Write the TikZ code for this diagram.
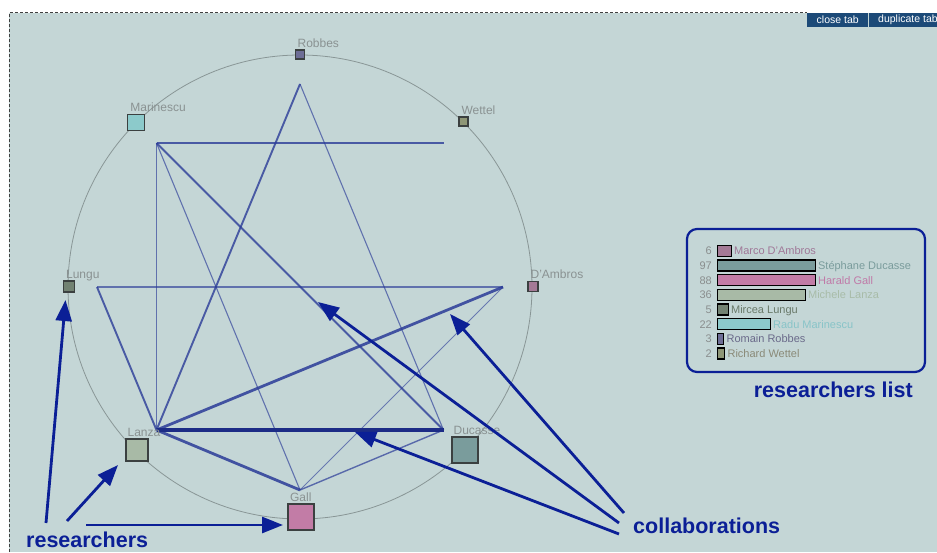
\documentclass[tikz,border=0pt]{standalone}
\usepackage{fontspec}
\setmainfont{Liberation Sans}
\usetikzlibrary{arrows.meta}
\definecolor{bg}{HTML}{C4D6D6}
\definecolor{annot}{HTML}{0B1F96}
\definecolor{edgeblue}{HTML}{2B3C98}
\definecolor{edgedark}{HTML}{1C2C86}
\definecolor{btnblue}{HTML}{1C4A78}
\definecolor{lblgrey}{HTML}{8A9292}
\definecolor{numgrey}{HTML}{8A8E8E}
\definecolor{cRob}{HTML}{6E6E96}
\definecolor{cWet}{HTML}{8E9676}
\definecolor{cDAm}{HTML}{A47A96}
\definecolor{cDuc}{HTML}{7A9C9C}
\definecolor{cGal}{HTML}{C27CA6}
\definecolor{cLan}{HTML}{A8BAA6}
\definecolor{cLun}{HTML}{728272}
\definecolor{cMar}{HTML}{8CCACB}
\definecolor{tDAm}{HTML}{A07898}
\definecolor{tDuc}{HTML}{7A9C9C}
\definecolor{tGal}{HTML}{C07AA8}
\definecolor{tLan}{HTML}{A8BCA8}
\definecolor{tLun}{HTML}{6A7A6A}
\definecolor{tMar}{HTML}{88C4C8}
\definecolor{tRob}{HTML}{6A6A8A}
\definecolor{tWet}{HTML}{8A8A78}
\tikzset{
  sq/.style={draw=black!70!bg, line width=1.2pt, inner sep=0pt, rectangle},
  lbl/.style={anchor=base west, inner sep=0pt, text=lblgrey, font=\fontsize{12}{14}\selectfont},
  eA/.style={draw=edgedark, line width=3.6pt},
  eB/.style={draw=edgeblue, line width=2.8pt, opacity=.85},
  eC/.style={draw=edgeblue, line width=1.9pt, opacity=.8},
  eD/.style={draw=edgeblue, line width=1.1pt, opacity=.65},
  eE/.style={draw=edgeblue, line width=0.8pt, opacity=.6},
  ring/.style={draw=black!30!bg, line width=0.8pt},
  bar/.style={draw=black, line width=1.4pt, inner sep=0pt, minimum height=11pt, anchor=west, rectangle},
  lname/.style={anchor=base west, inner sep=0pt, font=\fontsize{11}{13}\selectfont},
  lnum/.style={anchor=base east, inner sep=0pt, text=numgrey, font=\fontsize{11}{13}\selectfont},
  listbox/.style={draw=annot, line width=2.2pt, rounded corners=10pt},
  big/.style={inner sep=0pt, text=annot, font=\fontsize{21.5}{24}\selectfont\bfseries},
  arr/.style={draw=annot, line width=2.8pt, -{Triangle[length=21pt,width=16pt]}},
  btn/.style={fill=btnblue, text=white, inner sep=0pt, font=\fontsize{10.5}{12}\selectfont},
}
\begin{document}
\begin{tikzpicture}[x=1pt,y=-1pt]
\useasboundingbox (0,0) rectangle (937,552);
% background and dashed frame
\fill[bg] (9,12.5) rectangle (937,552);
\draw[black!75, line width=0.8pt, dash pattern=on 3pt off 2pt] (9.5,552) -- (9.5,12.5) -- (807,12.5);
% buttons
\node[btn, anchor=north west, minimum width=61pt, minimum height=14pt] (close) at (807,12.5) {close tab};
\fill[btnblue] (869,12.5) rectangle (940,26.5);
\node[btn, anchor=west] (dup) at (878,19.5) {duplicate tab};
% circle
\draw[ring] (300,287) circle[radius=232pt];
% inner coordinates
\coordinate (robI) at (300,84);
\coordinate (wetI) at (443.5,143);
\coordinate (damI) at (503,287);
\coordinate (ducI) at (443.5,430);
\coordinate (galI) at (300,490);
\coordinate (lanI) at (156.5,430);
\coordinate (lunI) at (97,287);
\coordinate (marI) at (156.5,143);
% collaborations (edges)
\draw[eD] (marI) -- (lanI);
\draw[eD] (marI) -- (galI);
\draw[eD] (robI) -- (ducI);
\draw[eD] (lunI) -- (damI);
\draw[eE] (damI) -- (galI);
\draw[eC] (marI) -- (wetI);
\draw[eC] (marI) -- (ducI);
\draw[eC] (robI) -- (lanI);
\draw[eC] (lunI) -- (lanI);
\draw[draw=edgeblue, line width=1.4pt, opacity=.7] (galI) -- (ducI);
\draw[eB] (damI) -- (lanI);
\draw[eB] (lanI) -- (galI);
\draw[eA] (lanI) -- (ducI);
% researcher squares
\node[sq, fill=cRob, minimum size=9pt] (rob) at (300,54.5) {};
\node[sq, fill=cWet, minimum size=9pt] (wet) at (463.5,121.5) {};
\node[sq, fill=cDAm, minimum size=10pt] (dam) at (533,286.5) {};
\node[sq, fill=cDuc, minimum size=26pt] (duc) at (465,450) {};
\node[sq, fill=cGal, minimum size=26pt] (gal) at (301,517) {};
\node[sq, fill=cLan, minimum size=22pt] (lan) at (137,450) {};
\node[sq, fill=cLun, minimum size=11pt] (lun) at (69,286.5) {};
\node[sq, fill=cMar, minimum size=16.5pt] (mar) at (136,122.5) {};
% labels
\node[lbl] (robL) at ([xshift=2.5pt,yshift=2pt]rob.north west) {Robbes};
\node[lbl] (wetL) at ([xshift=3pt,yshift=2pt]wet.north west) {Wettel};
\node[lbl] (damL) at ([xshift=3pt,yshift=2pt]dam.north west) {D'Ambros};
\node[lbl] (ducL) at ([xshift=2pt,yshift=2pt]duc.north west) {Ducasse};
\node[lbl] (galL) at ([xshift=2.5pt,yshift=2pt]gal.north west) {Gall};
\node[lbl] (lanL) at ([xshift=2pt,yshift=2pt]lan.north west) {Lanza};
\node[lbl] (lunL) at ([xshift=3pt,yshift=2pt]lun.north west) {Lungu};
\node[lbl] (marL) at ([xshift=3pt,yshift=2pt]mar.north west) {Marinescu};
% researchers list
\draw[listbox] (687,229) rectangle (925,372);
\node[bar, fill=cDAm, minimum width=14pt] (b1) at (716.5,250.7) {};
\node[bar, fill=cDuc, minimum width=98pt] (b2) at (716.5,265.4) {};
\node[bar, fill=cGal, minimum width=98pt] (b3) at (716.5,280.1) {};
\node[bar, fill=cLan, minimum width=88pt] (b4) at (716.5,294.8) {};
\node[bar, fill=cLun, minimum width=11pt] (b5) at (716.5,309.5) {};
\node[bar, fill=cMar, minimum width=53pt] (b6) at (716.5,324.2) {};
\node[bar, fill=cRob, minimum width=6.5pt] (b7) at (716.5,338.9) {};
\node[bar, fill=cWet, minimum width=7.5pt] (b8) at (716.5,353.6) {};
\foreach \b/\n/\t/\c in {b1/6/Marco D'Ambros/tDAm, b2/97/Stéphane Ducasse/tDuc, b3/88/Harald Gall/tGal, b4/36/Michele Lanza/tLan, b5/5/Mircea Lungu/tLun, b6/22/Radu Marinescu/tMar, b7/3/Romain Robbes/tRob, b8/2/Richard Wettel/tWet}{
  \node[lnum] (\b n) at ([xshift=-4.5pt,yshift=-4pt]\b.west) {\n};
  \node[lname, text=\c] (\b t) at ([xshift=2pt,yshift=-4pt]\b.east) {\t};
}
\node[big, anchor=base east] (rlist) at (913,397) {researchers list};
% annotations
\node[big, anchor=base west] (res) at (26,547.5) {researchers};
\node[big, anchor=base west] (col) at (633,533) {collaborations};
\coordinate (rs1) at (46,523);
\coordinate (rs2) at (67,521);
\coordinate (rs3) at (86,525);
\coordinate (rt1) at (65.5,300);
\coordinate (rt2) at (118,465);
\coordinate (rt3) at (283,525);
\draw[arr] (rs1) -- (rt1);
\draw[arr] (rs2) -- (rt2);
\draw[arr] (rs3) -- (rt3);
\coordinate (cs1) at (624,513);
\coordinate (cs2) at (619,523);
\coordinate (cs3) at (619,534);
\coordinate (ct1) at (450,314);
\coordinate (ct2) at (318,302);
\coordinate (ct3) at (355,432);
\draw[arr] (cs1) -- (ct1);
\draw[arr] (cs2) -- (ct2);
\draw[arr] (cs3) -- (ct3);
\end{tikzpicture}
\end{document}
